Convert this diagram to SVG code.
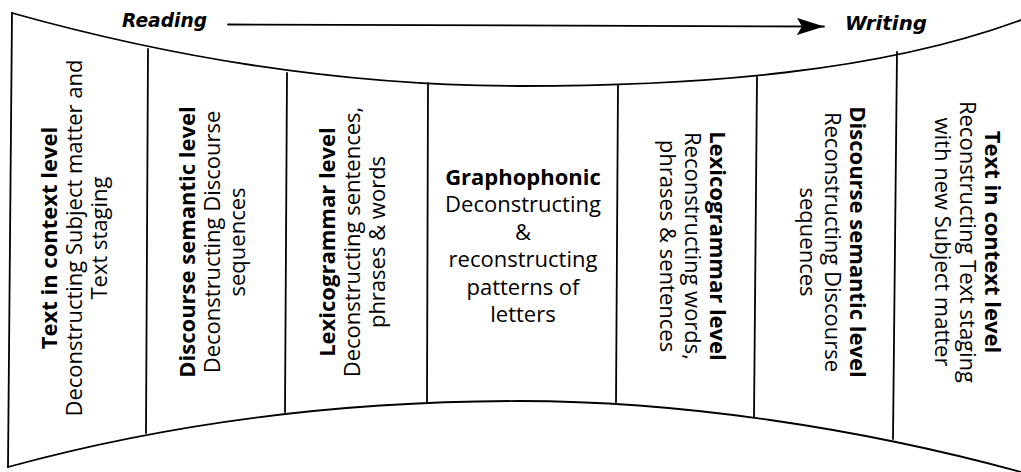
<svg xmlns="http://www.w3.org/2000/svg" width="1021" height="472" viewBox="0 0 1021 472">
<defs>
<style>
.ln{fill:none;stroke:#000;stroke-width:1.8;stroke-linecap:round}
.t{font-family:"Open Sans","Noto Sans",sans-serif;font-size:22px;fill:#000}
.b{font-weight:bold}
.hw{font-family:"DejaVu Sans",sans-serif;font-weight:bold;font-style:italic;font-size:19px;fill:#000}
</style>
<marker id="ah" markerWidth="28" markerHeight="18" refX="27" refY="8.5" orient="auto" markerUnits="userSpaceOnUse">
<path d="M0,0 L27,8.5 L0,17 L5,8.5 Z" fill="#000"/>
</marker>
</defs>
<rect width="1021" height="472" fill="#fff"/>
<g id="connectors">
<path class="ln" d="M12,13 C180,60 350,86 520,86 C700,86 880,72 1021,20"/>
<path class="ln" d="M8,467 C180,420 350,401 520,401 C680,401 860,428 1021,472"/>
<path class="ln" d="M12,13 L8,467"/>
<path class="ln" d="M148,49 L146,433"/>
<path class="ln" d="M287,73 L285,412"/>
<path class="ln" d="M428,83 L427,402"/>
<path class="ln" d="M618,85 L616,404"/>
<path class="ln" d="M757,77 L754,417"/>
<path class="ln" d="M897,52 L893,439"/>
<path class="ln" d="M228,24.5 L824,26.5" marker-end="url(#ah)"/>
</g>
<g id="header">
<text class="hw" x="122" y="27" textLength="85" lengthAdjust="spacingAndGlyphs">Reading</text>
<text class="hw" x="845" y="30" textLength="82" lengthAdjust="spacingAndGlyphs">Writing</text>
</g>
<g id="panel1" transform="translate(80,238) rotate(-90)">
<text class="t" text-anchor="middle"><tspan class="b" x="0" y="-23">Text in context level</tspan><tspan x="0" y="2">Deconstructing Subject matter and</tspan><tspan x="0" y="27">Text staging</tspan></text>
</g>
<g id="panel2" transform="translate(217.5,242) rotate(-90)">
<text class="t" text-anchor="middle"><tspan class="b" x="0" y="-22.5">Discourse semantic level</tspan><tspan x="0" y="2.5">Deconstructing Discourse</tspan><tspan x="0" y="27.5">sequences</tspan></text>
</g>
<g id="panel3" transform="translate(357.5,242) rotate(-90)">
<text class="t" text-anchor="middle"><tspan class="b" x="0" y="-22.5">Lexicogrammar level</tspan><tspan x="0" y="2.5">Deconstructing sentences,</tspan><tspan x="0" y="27.5">phrases &amp; words</tspan></text>
</g>
<g id="panel4">
<text class="t" text-anchor="middle"><tspan class="b" x="523" y="185">Graphophonic</tspan><tspan x="523" y="212.4">Deconstructing</tspan><tspan x="523" y="239.8">&amp;</tspan><tspan x="523" y="267.2">reconstructing</tspan><tspan x="523" y="294.6">patterns of</tspan><tspan x="523" y="322">letters</tspan></text>
</g>
<g id="panel5" transform="translate(687.5,246) rotate(90)">
<text class="t" text-anchor="middle"><tspan class="b" x="0" y="-22.5">Lexicogrammar level</tspan><tspan x="0" y="2.5">Reconstructing words,</tspan><tspan x="0" y="27.5">phrases &amp; sentences</tspan></text>
</g>
<g id="panel6" transform="translate(827,242) rotate(90)">
<text class="t" text-anchor="middle"><tspan class="b" x="0" y="-22.5">Discourse semantic level</tspan><tspan x="0" y="2.5">Reconstructing Discourse</tspan><tspan x="0" y="27.5">sequences</tspan></text>
</g>
<g id="panel7" transform="translate(962,242) rotate(90)">
<text class="t" text-anchor="middle"><tspan class="b" x="0" y="-22.5">Text in context level</tspan><tspan x="0" y="2.5">Reconstructing Text staging</tspan><tspan x="0" y="27.5">with new Subject matter</tspan></text>
</g>
</svg>
